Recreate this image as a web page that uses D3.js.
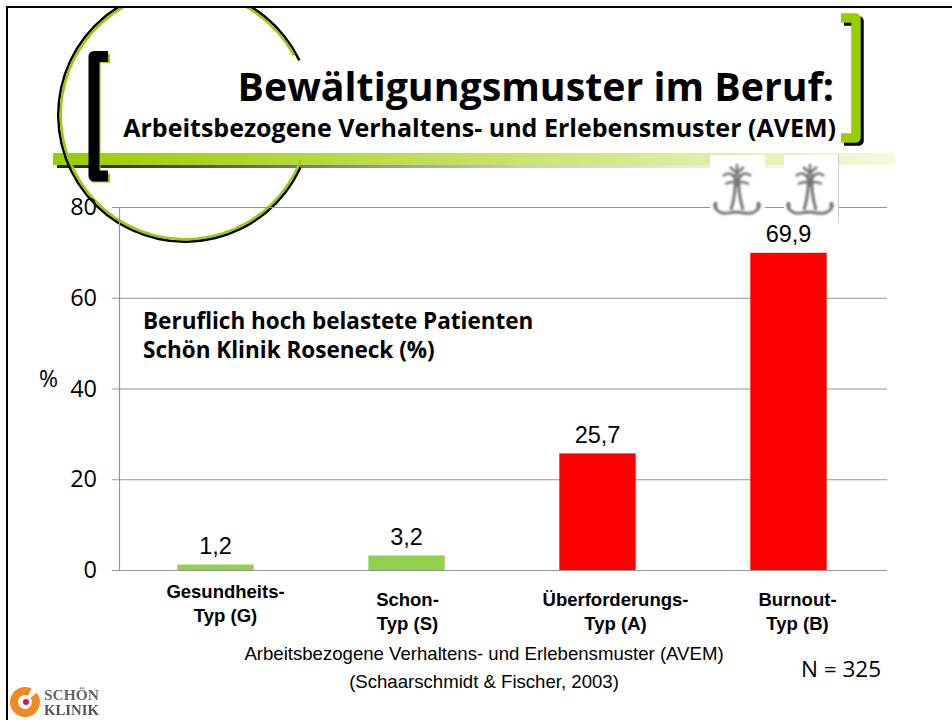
<!DOCTYPE html>
<html>
<head>
<meta charset="utf-8">
<script src="https://cdn.jsdelivr.net/npm/d3@7"></script>
<style>
html, body { margin: 0; padding: 0; background: #fff; }
svg { display: block; }
</style>
</head>
<body>
<div id="chart"></div>
<script>
// Daten
var kategorien = ["Gesundheits-|Typ (G)", "Schon-|Typ (S)", "Überforderungs-|Typ (A)", "Burnout-|Typ (B)"];
var werte = [1.2, 3.2, 25.7, 69.9];
var wertLabels = ["1,2", "3,2", "25,7", "69,9"];
var farben = ["#92d050", "#92d050", "#ff0000", "#ff0000"];
var yTicks = [0, 20, 40, 60, 80];

var width = 952, height = 720;
var plot = {left: 120, right: 884, top: 207, bottom: 570};

var svg = d3.select("#chart").append("svg")
    .attr("width", width)
    .attr("height", height);

var defs = svg.append("defs");
var verlauf = defs.append("linearGradient").attr("id", "balken");
verlauf.append("stop").attr("offset", "0%").attr("stop-color", "#99cc00");
verlauf.append("stop").attr("offset", "50%").attr("stop-color", "#c4e162");
verlauf.append("stop").attr("offset", "100%").attr("stop-color", "#f4f9df");
var schatten = defs.append("linearGradient").attr("id", "schatten");
schatten.append("stop").attr("offset", "0%").attr("stop-color", "#222");
schatten.append("stop").attr("offset", "60%").attr("stop-color", "#ccc");
schatten.append("stop").attr("offset", "100%").attr("stop-color", "#fff");
defs.append("filter").attr("id", "blur").append("feGaussianBlur").attr("stdDeviation", 1);
defs.append("filter").attr("id", "blurtext").append("feGaussianBlur").attr("stdDeviation", 0.3);
defs.append("clipPath").attr("id", "folie").append("rect")
    .attr("x", 8).attr("y", 8).attr("width", 944).attr("height", 712);

/************ Folienrahmen ***************/
svg.append("path")
    .attr("d", "M7,720V7H952")
    .attr("fill", "none").attr("stroke", "#000").attr("stroke-width", 2);

/************ Balken unter dem Titel ***************/
svg.append("rect").attr("x", 57).attr("y", 165).attr("width", 780).attr("height", 3).attr("fill", "url(#schatten)");
svg.append("rect").attr("x", 53).attr("y", 153).attr("width", 842).attr("height", 12).attr("fill", "url(#balken)");

/************ Kreis ***************/
var kreis = svg.append("g").attr("clip-path", "url(#folie)");
kreis.append("path")
    .attr("d", d3.arc()({innerRadius: 125.5, outerRadius: 128, startAngle: 1.998, endAngle: 2 * Math.PI + 1.125}))
    .attr("transform", "translate(185,115)")
    .attr("fill", "#000");
kreis.append("path")
    .attr("d", d3.arc()({innerRadius: 123, outerRadius: 125.5, startAngle: 1.94, endAngle: 2 * Math.PI + 1.07}))
    .attr("transform", "translate(185,115)")
    .attr("fill", "#99cc00");

/************ Klammern ***************/
var linksPfad = "M108,56.5H94V176H108";
svg.append("path").attr("d", linksPfad).attr("transform", "translate(2,2)")
    .attr("fill", "none").attr("stroke", "#99cc00").attr("stroke-width", 9);
svg.append("path").attr("d", linksPfad)
    .attr("fill", "none").attr("stroke", "#000").attr("stroke-width", 11).attr("stroke-linejoin", "round");
var rechtsPfad = "M841,18H856V138H841";
svg.append("path").attr("d", rechtsPfad).attr("transform", "translate(3,3)")
    .attr("fill", "none").attr("stroke", "#000").attr("stroke-width", 9.5).attr("stroke-linejoin", "round");
svg.append("path").attr("d", rechtsPfad)
    .attr("fill", "none").attr("stroke", "#99cc00").attr("stroke-width", 9.5).attr("stroke-linejoin", "round");

/************ Titel ***************/
var titelFont = "'Open Sans', sans-serif";
svg.append("text").attr("x", 834).attr("y", 101)
    .attr("text-anchor", "end")
    .style("font-family", titelFont).style("font-weight", "bold").style("font-size", "39.3px")
    .attr("fill", "#000").text("Bewältigungsmuster im Beruf:");
svg.append("text").attr("x", 836).attr("y", 137)
    .attr("text-anchor", "end")
    .style("font-family", titelFont).style("font-weight", "bold").style("font-size", "25px")
    .attr("fill", "#000").text("Arbeitsbezogene Verhaltens- und Erlebensmuster (AVEM)");

/************ Skalen ***************/
var x = d3.scaleBand()
    .domain(kategorien)
    .range([plot.left, plot.right])
    .paddingInner(0.6)
    .paddingOuter(0.3);
var y = d3.scaleLinear().domain([0, 80]).range([plot.bottom, plot.top]);

/************ Gitter und Achsen ***************/
var gitter = svg.append("g");
gitter.selectAll("line").data(yTicks).enter().append("line")
    .attr("x1", plot.left - 8).attr("x2", 887)
    .attr("y1", function(d) { return y(d) + 0.5; })
    .attr("y2", function(d) { return y(d) + 0.5; })
    .attr("stroke", "#969696").attr("stroke-width", 1.2);
gitter.append("line")
    .attr("x1", 119.5).attr("x2", 119.5)
    .attr("y1", plot.top).attr("y2", plot.bottom)
    .attr("stroke", "#969696").attr("stroke-width", 1.2);

svg.append("g").selectAll("text").data(yTicks).enter().append("text")
    .attr("x", 97).attr("y", function(d) { return y(d) + 8; })
    .attr("text-anchor", "end")
    .style("font-family", titelFont).style("font-size", "23.5px")
    .attr("fill", "#000")
    .text(function(d) { return d; });

/************ Balken ***************/
var daten = kategorien.map(function(k, i) {
    return {kategorie: k, wert: werte[i], label: wertLabels[i], farbe: farben[i]};
});
svg.append("g").selectAll("rect").data(daten).enter().append("rect")
    .attr("x", function(d) { return x(d.kategorie); })
    .attr("y", function(d) { return y(d.wert); })
    .attr("width", x.bandwidth())
    .attr("height", function(d) { return plot.bottom - y(d.wert); })
    .attr("fill", function(d) { return d.farbe; });

// Wertelabels
var labelFont = "'Liberation Sans', Arial, sans-serif";
svg.append("g").selectAll("text").data(daten).enter().append("text")
    .attr("x", function(d) { return x(d.kategorie) + x.bandwidth() / 2; })
    .attr("y", function(d) { return y(d.wert) - 10.5; })
    .attr("text-anchor", "middle")
    .style("font-family", labelFont).style("font-size", "23.5px")
    .attr("fill", "#000")
    .text(function(d) { return d.label; });

// Kategorien
var katDx = [10, 1, 18, 9];
var katY = [598, 606, 606, 606];
daten.forEach(function(d, i) {
    d.kategorie.split("|").forEach(function(teil, j) {
        svg.append("text")
            .attr("x", x(d.kategorie) + x.bandwidth() / 2 + katDx[i])
            .attr("y", katY[i] + j * 23.5)
            .attr("text-anchor", "middle")
            .style("font-family", labelFont).style("font-weight", "bold").style("font-size", "18.5px")
            .attr("fill", "#000").text(teil);
    });
});

/************ Texte ***************/
function drawText(px, py, texto, size, weight, anchor, font) {
    svg.append("text").attr("x", px).attr("y", py)
        .attr("text-anchor", anchor || "start")
        .style("font-family", font || labelFont)
        .style("font-size", size + "px")
        .style("font-weight", weight || "normal")
        .attr("fill", "#000").text(texto);
}
drawText(143, 329, "Beruflich hoch belastete Patienten", 22.5, "bold", "start", titelFont);
drawText(143, 358, "Schön Klinik Roseneck (%)", 22.5, "bold", "start", titelFont);
drawText(39, 387, "%", 23, "normal", "start", titelFont);
drawText(484, 660, "Arbeitsbezogene Verhaltens- und Erlebensmuster (AVEM)", 18.6, "normal", "middle");
drawText(484, 688, "(Schaarschmidt & Fischer, 2003)", 18.6, "normal", "middle");
drawText(801, 677, "N = 325", 22.5, "normal", "start", titelFont);

/************ Ankersymbole (weisse Felder oben rechts) ***************/
[[710, 765], [784, 838]].forEach(function(b) {
    svg.append("rect").attr("x", b[0]).attr("y", 155).attr("width", b[1] - b[0]).attr("height", 68).attr("fill", "#fff");
});
svg.append("line").attr("x1", 838.5).attr("x2", 838.5).attr("y1", 155).attr("y2", 223).attr("stroke", "#ccc");
[737, 810].forEach(function(cx) {
    var g = svg.append("g").attr("transform", "translate(" + cx + ",190)")
        .attr("filter", "url(#blur)").attr("fill", "none").attr("stroke", "#777");
    g.append("path").attr("stroke-width", 3).attr("d", "M-2,-16C-1,-4 -3,10 -6,20M2,-16C1,-4 3,10 6,20");
    g.append("path").attr("stroke-width", 2.5).attr("d", "M-14,-14C-7,-20 -3,-14 0,-9C3,-14 7,-20 14,-14M-12,-6C-6,-9 -2,-9 0,-5C2,-9 6,-9 12,-6");
    g.append("path").attr("stroke-width", 3).attr("d", "M-21,17C-20,10 -25,14 -20,20C-14,26 -7,22 -1,22C6,22 14,26 20,20C25,14 20,10 21,17");
    g.append("path").attr("stroke-width", 2.5).attr("d", "M-7,-23L0,-17L7,-23M0,-26V-15");
});

/************ Logo ***************/
var logo = svg.append("g").attr("filter", "url(#blurtext)");
logo.append("path")
    .attr("d", d3.arc()({innerRadius: 7, outerRadius: 15, startAngle: 0.9, endAngle: 2 * Math.PI + 0.45}))
    .attr("transform", "translate(25,702)")
    .attr("fill", "#f08a1d");
logo.append("circle").attr("cx", 26).attr("cy", 702).attr("r", 3).attr("fill", "#e2183d");
logo.append("text").attr("x", 44).attr("y", 700)
    .attr("textLength", 55).attr("lengthAdjust", "spacingAndGlyphs")
    .style("font-family", "'Liberation Serif', serif").style("font-weight", "bold").style("font-size", "14px")
    .attr("fill", "#666").text("SCHÖN");
logo.append("text").attr("x", 44).attr("y", 715)
    .attr("textLength", 55).attr("lengthAdjust", "spacingAndGlyphs")
    .style("font-family", "'Liberation Serif', serif").style("font-weight", "bold").style("font-size", "15px")
    .attr("fill", "#555").text("KLINIK");
</script>
</body>
</html>
